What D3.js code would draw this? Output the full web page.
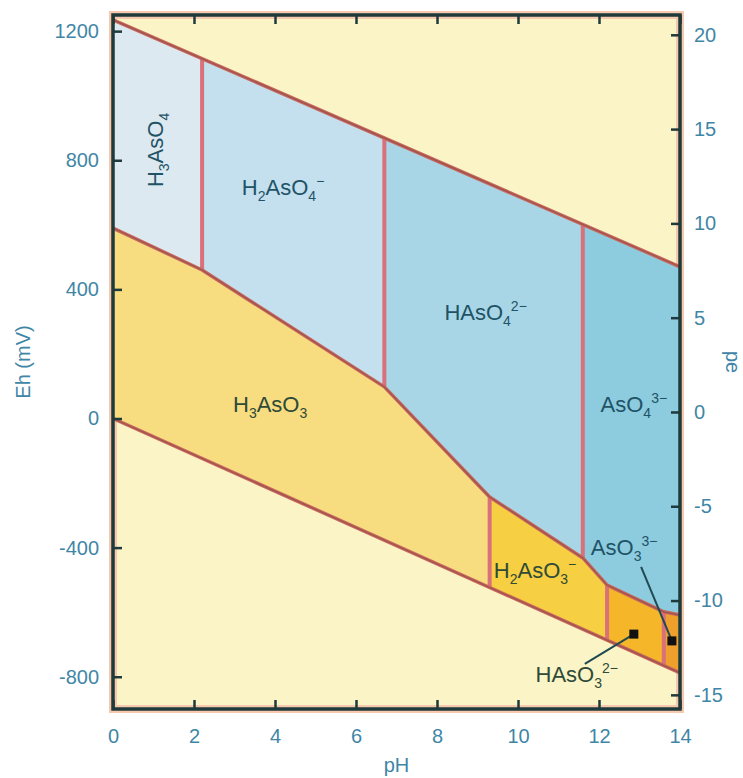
<!DOCTYPE html>
<html lang="en">
<head>
<meta charset="UTF-8">
<title>Eh-pH diagram, arsenic</title>
<script src="https://d3js.org/d3.v7.min.js"></script>
<style>
  body { margin: 0; background: #fff; }
  svg { display: block; font-family: "Liberation Sans", Arial, sans-serif; }
  .tick text { fill: #3f86a6; font-size: 20px; }
  .tick line { stroke: #1e3a3a; stroke-width: 2.5; }
  .domain { display: none; }
  .title { fill: #3f86a6; font-size: 20px; }
  .species { font-size: 22px; }
  .boundary { fill: none; stroke: #c9675c; stroke-width: 3.5; stroke-linejoin: round; }
  .vert { stroke: #d9707a; stroke-width: 4; }
</style>
</head>
<body>
<script>
  // boundaries, [pH, Eh mV]
  const upperWater = [[0, 1235], [14, 470]];
  const lowerWater = [[0, 0], [14, -788]];
  const redoxLine = [[0, 590], [2.2, 460], [6.7, 98], [9.3, -243], [11.6, -432], [12.2, -516], [13.6, -599], [14, -609]];

  // species fields, As(V) above redox line, As(III) below
  const asVBreaks = [0, 2.2, 6.7, 11.6, 14];
  const asVColors = ["#dde9f1", "#c4dfee", "#a8d6e6", "#8dcbdf"];
  const asIIIBreaks = [0, 9.3, 12.2, 13.6, 14];
  const asIIIColors = ["#f7dc80", "#f7cf42", "#f5b629", "#ef9f2c"];

  const pHTicks = [0, 2, 4, 6, 8, 10, 12, 14];
  const ehTicks = [1200, 800, 400, 0, -400, -800];
  const peTicks = [20, 15, 10, 5, 0, -5, -10, -15];

  // labels: parts are [text, "n" | "sub" | "sup"]
  const labels = [
    { ph: 1.23, eh: 832, rot: -90, parts: [["H", "n"], ["3", "sub"], ["AsO", "n"], ["4", "sub"]] },
    { ph: 4.2, eh: 692, rot: 0, parts: [["H", "n"], ["2", "sub"], ["AsO", "n"], ["4", "sub"], ["\u2212", "sup"]] },
    { ph: 9.2, eh: 305, rot: 0, parts: [["HAsO", "n"], ["4", "sub"], ["2\u2212", "sup"]] },
    { ph: 12.86, eh: 20, rot: 0, parts: [["AsO", "n"], ["4", "sub"], ["3\u2212", "sup"]] },
    { ph: 3.88, eh: 20, rot: 0, parts: [["H", "n"], ["3", "sub"], ["AsO", "n"], ["3", "sub"]] },
    { ph: 10.42, eh: -494, rot: 0, parts: [["H", "n"], ["2", "sub"], ["AsO", "n"], ["3", "sub"], ["\u2212", "sup"]] },
    { ph: 12.62, eh: -423, rot: 0, parts: [["AsO", "n"], ["3", "sub"], ["3\u2212", "sup"]] },
    { ph: 11.45, eh: -816, rot: 0, parts: [["HAsO", "n"], ["3", "sub"], ["2\u2212", "sup"]] }
  ];
  // leader lines: from [pH, Eh] to dot [pH, Eh]
  const leaders = [
    [[13.04, -460], [13.8, -689]],
    [[11.65, -760], [12.86, -668]]
  ];

  const W = 743, H = 778;
  const m = { top: 15, right: 63, bottom: 69, left: 113 };

  const x = d3.scaleLinear().domain([0, 14]).range([m.left, W - m.right]);
  const y = d3.scaleLinear().domain([-900, 1250]).range([H - m.bottom, m.top]);
  const pe = d3.scaleLinear().domain([-15.75, 21.05]).range([H - m.bottom, m.top]);

  // linear interpolation on a polyline
  function at(line, p) {
    for (let i = 1; i < line.length; i++) {
      const [x0, y0] = line[i - 1], [x1, y1] = line[i];
      if (p <= x1) return y0 + (y1 - y0) * (p - x0) / (x1 - x0);
    }
    return line[line.length - 1][1];
  }
  function between(line, a, b) {
    const pts = [[a, at(line, a)]];
    line.forEach(d => { if (d[0] > a && d[0] < b) pts.push(d); });
    pts.push([b, at(line, b)]);
    return pts;
  }

  const svg = d3.select("body").append("svg").attr("width", W).attr("height", H);
  const toPx = d => [x(d[0]), y(d[1])];
  const line = d3.line().x(d => x(d[0])).y(d => y(d[1]));

  // plot background halo + fill
  svg.append("rect")
    .attr("x", m.left).attr("y", m.top)
    .attr("width", W - m.left - m.right).attr("height", H - m.top - m.bottom)
    .attr("fill", "#fbf4c6")
    .attr("stroke", "#f6c9ae").attr("stroke-width", 8);

  // As(V) fields
  asVColors.forEach((c, i) => {
    const a = asVBreaks[i], b = asVBreaks[i + 1];
    const pts = between(upperWater, a, b).concat(between(redoxLine, a, b).reverse());
    svg.append("polygon").attr("points", pts.map(toPx).join(" ")).attr("fill", c);
  });
  // As(III) fields
  asIIIColors.forEach((c, i) => {
    const a = asIIIBreaks[i], b = asIIIBreaks[i + 1];
    const pts = between(redoxLine, a, b).concat(between(lowerWater, a, b).reverse());
    svg.append("polygon").attr("points", pts.map(toPx).join(" ")).attr("fill", c);
  });

  // vertical (acid-base) boundaries
  asVBreaks.slice(1, -1).forEach(p => {
    svg.append("line").attr("class", "vert")
      .attr("x1", x(p)).attr("x2", x(p))
      .attr("y1", y(at(upperWater, p))).attr("y2", y(at(redoxLine, p)));
  });
  asIIIBreaks.slice(1, -1).forEach(p => {
    svg.append("line").attr("class", "vert")
      .attr("x1", x(p)).attr("x2", x(p))
      .attr("y1", y(at(redoxLine, p))).attr("y2", y(at(lowerWater, p)));
  });

  // redox / water lines
  [upperWater, lowerWater, redoxLine].forEach(l => {
    svg.append("path").attr("class", "boundary").attr("d", line(l));
    svg.append("path").attr("d", line(l)).attr("fill", "none")
      .attr("stroke", "#8a4a48").attr("stroke-width", 1.2).attr("opacity", 0.7);
  });

  // species labels
  labels.forEach(l => {
    const blue = l.eh > at(redoxLine, l.ph) && l.ph < 14 && l.eh > -450;
    const t = svg.append("text").attr("class", "species")
      .attr("text-anchor", "middle")
      .attr("fill", blue ? "#1f5366" : "#2e4a38")
      .attr("transform", `translate(${x(l.ph)},${y(l.eh)}) rotate(${l.rot})`)
      .attr("dy", "0.35em");
    let shift = 0;
    l.parts.forEach(([s, k]) => {
      const target = k === "sub" ? 6 : k === "sup" ? -9 : 0;
      t.append("tspan")
        .attr("dy", target - shift)
        .attr("font-size", k === "n" ? null : "14px")
        .text(s);
      shift = target;
    });
  });

  // leader lines with dots
  leaders.forEach(([a, b]) => {
    svg.append("line")
      .attr("x1", x(a[0])).attr("y1", y(a[1]))
      .attr("x2", x(b[0])).attr("y2", y(b[1]))
      .attr("stroke", "#1f4a52").attr("stroke-width", 2);
    svg.append("rect")
      .attr("x", x(b[0]) - 4.5).attr("y", y(b[1]) - 4.5)
      .attr("width", 9).attr("height", 9).attr("fill", "#111");
  });

  // axes, ticks pointing inward
  const plotH = H - m.top - m.bottom, plotW = W - m.left - m.right;
  svg.append("g").attr("transform", `translate(0,${H - m.bottom})`)
    .call(d3.axisBottom(x).tickValues(pHTicks).tickSize(-9).tickPadding(20));
  svg.append("g").attr("transform", `translate(0,${m.top})`)
    .call(d3.axisTop(x).tickValues(pHTicks).tickSize(-9).tickFormat(""));
  svg.append("g").attr("transform", `translate(${m.left},0)`)
    .call(d3.axisLeft(y).tickValues(ehTicks).tickSize(-9).tickPadding(14).tickFormat(d3.format("d")));
  svg.append("g").attr("transform", `translate(${W - m.right},0)`)
    .call(d3.axisRight(pe).tickValues(peTicks).tickSize(-9).tickPadding(14).tickFormat(d3.format("d")));
  svg.selectAll(".tick text").text(function () { return this.textContent.replace("\u2212", "-"); });

  // frame
  svg.append("rect")
    .attr("x", m.left).attr("y", m.top).attr("width", plotW).attr("height", plotH)
    .attr("fill", "none").attr("stroke", "#1e3a3a").attr("stroke-width", 3.5);

  // axis titles
  svg.append("text").attr("class", "title").attr("text-anchor", "middle")
    .attr("transform", `translate(30,${m.top + plotH / 2}) rotate(-90)`).text("Eh (mV)");
  svg.append("text").attr("class", "title").attr("text-anchor", "middle")
    .attr("transform", `translate(726,${m.top + plotH / 2}) rotate(90)`).text("pe");
  svg.append("text").attr("class", "title").attr("text-anchor", "middle")
    .attr("x", m.left + plotW / 2).attr("y", 772).text("pH");
</script>
</body>
</html>
